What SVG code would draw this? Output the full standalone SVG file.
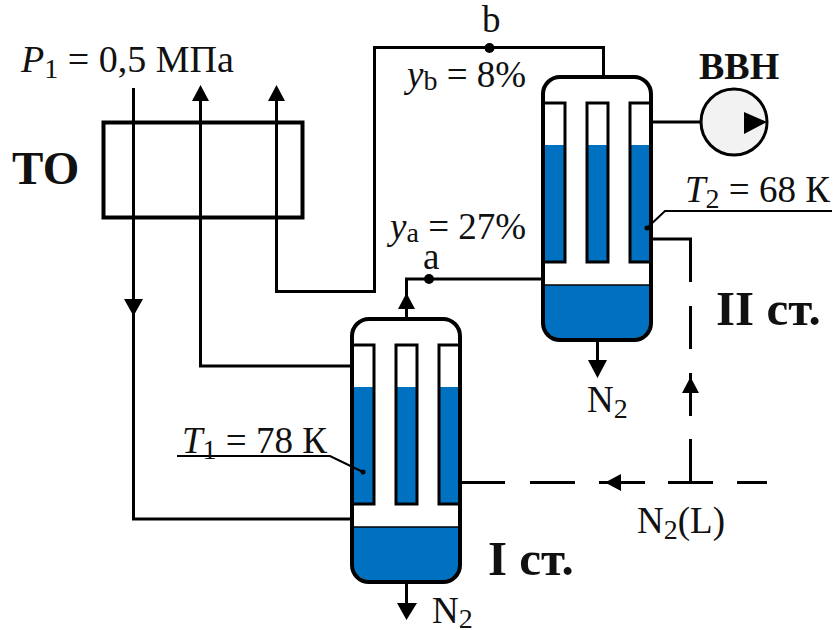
<svg xmlns="http://www.w3.org/2000/svg" width="835" height="630" viewBox="0 0 835 630">
<style>
text{font-family:"Liberation Serif","Times New Roman",serif;fill:#111;font-size:37px}
.b{font-weight:bold;font-size:49px}
.s{font-size:28px}
.i{font-style:italic}
.line{fill:none;stroke:#000;stroke-width:3}
.thin{fill:none;stroke:#000;stroke-width:2}
.shell{fill:none;stroke:#000;stroke-width:4}
.blue{fill:#0070c0}
.tube{fill:none;stroke:#000;stroke-width:3}
.ah{fill:#000}
</style>
<defs>
<g id="vessel">
<rect x="2" y="2" width="106" height="260" rx="16" fill="#fff"/>
<path class="blue" d="M2 209H108V246a16 16 0 0 1-16 16H18a16 16 0 0 1-16-16Z"/>
<rect class="blue" x="2" y="69" width="21" height="117"/>
<rect class="blue" x="45" y="69" width="21" height="117"/>
<rect class="blue" x="88" y="69" width="20" height="117"/>
<path fill="none" stroke="#000" stroke-width="1.500" d="M2 209H108"/>
<path class="tube" d="M2 27H23V186H2M45 186V27H66V186ZM108 27H88V186H108"/>
<rect class="shell" x="1" y="1" width="108" height="263" rx="17"/>
</g>
</defs>
<g id="connectors">
<path class="line" d="M133.500 88V519H352"/>
<path class="line" d="M200.500 100V366H352"/>
<path class="line" d="M276.500 100V291.500H374.500V47.500H603.500V77"/>
<path class="line" d="M406.500 318V279H543"/>
<path class="line" d="M652 122H701"/>
<path class="line" d="M652 239H690.500V282M690.500 306V349M690.500 373V416M690.500 439V482M461 482.500H505M530 482.500H575M599 482.500H645M668 482.500H713M737 482.500H767"/>
<path class="line" d="M597.500 341V362M406.500 583V606"/>
<path class="ah" d="M200.500 85L192 101H209ZM276.500 85L268 101H285ZM133.500 316L124 299H143ZM406.500 293L398 309H415ZM597.500 378L588 360H607ZM406.500 620L397 603H417ZM690.500 377L682 393H699ZM605 482.500L621 474V491Z"/>
<circle class="ah" cx="489.500" cy="48" r="5"/>
<circle class="ah" cx="429" cy="279" r="5"/>
</g>
<g id="to"><rect class="line" x="103.500" y="122.500" width="199" height="95" style="stroke-width:4"/><text x="12" y="184" style="font-weight:bold;font-size:47px">ТО</text></g>
<g id="vessel2"><use href="#vessel" x="542" y="76"/><path class="thin" d="M647 228L665 211H832"/><circle class="ah" cx="647" cy="228" r="2.500"/></g>
<g id="vessel1"><use href="#vessel" x="351" y="318"/><path class="thin" d="M363 472L330 456H177"/><circle class="ah" cx="363" cy="472" r="2.500"/></g>
<g id="pump"><circle cx="734" cy="122" r="33" fill="#f2f2f2" stroke="#000" stroke-width="3"/><path class="ah" d="M744 112L767 122L744 134Z"/><text x="699" y="79" style="font-weight:bold;font-size:38px">ВВН</text></g>
<g id="labels">
<text x="21" y="72" style="font-size:38px"><tspan class="i">P</tspan><tspan dy="6" class="s">1</tspan><tspan dy="-6"> = 0,5 МПа</tspan></text>
<text x="482" y="32">b</text>
<text x="407" y="87"><tspan class="i">y</tspan><tspan dy="3" class="s">b</tspan><tspan dy="-3"> = 8%</tspan></text>
<text x="390" y="239"><tspan class="i">y</tspan><tspan dy="3" class="s">a</tspan><tspan dy="-3"> = 27%</tspan></text>
<text x="423" y="269">a</text>
<text x="685" y="202"><tspan class="i">T</tspan><tspan dy="6" class="s">2</tspan><tspan dy="-6"> = 68 К</tspan></text>
<text x="182" y="453"><tspan class="i">T</tspan><tspan dy="6" class="s">1</tspan><tspan dy="-6"> = 78 К</tspan></text>
<text class="b" x="716" y="325">II ст.</text>
<text class="b" x="488" y="575">I ст.</text>
<text x="587" y="412">N<tspan dy="6" class="s">2</tspan></text>
<text x="432" y="623">N<tspan dy="5" class="s">2</tspan></text>
<text x="637" y="533">N<tspan dy="6" class="s">2</tspan><tspan dy="-6">(L)</tspan></text>
</g>
</svg>
